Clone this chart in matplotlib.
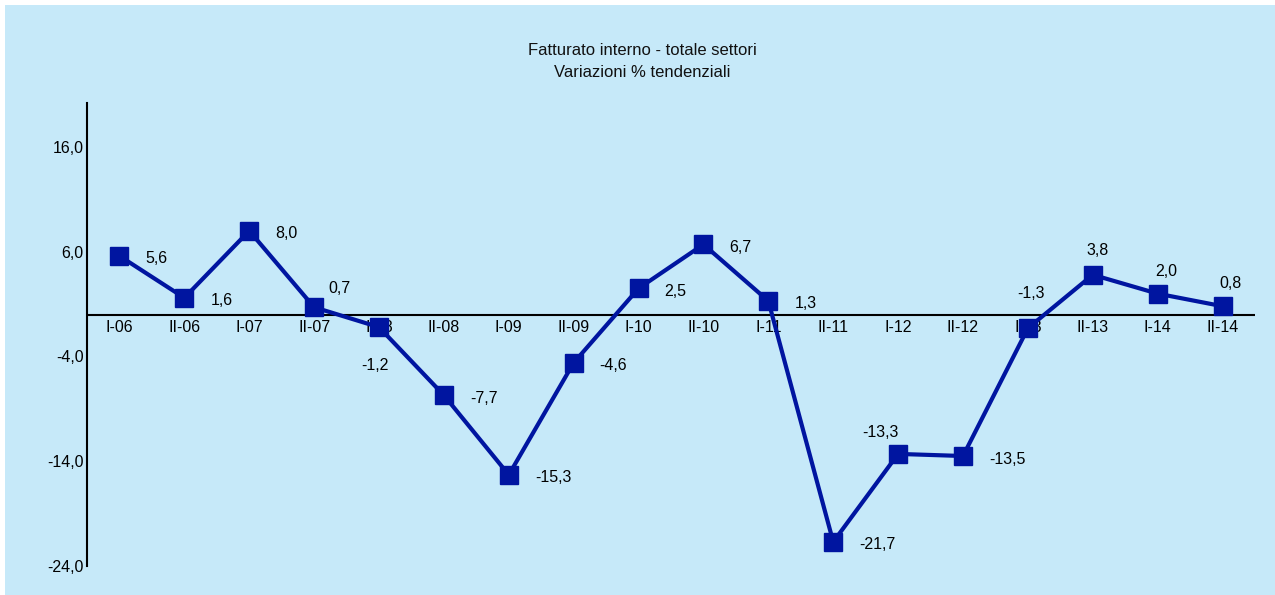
import matplotlib.pyplot as plt
from matplotlib.patches import Rectangle

periods = ['I-06', 'II-06', 'I-07', 'II-07', 'I-08', 'II-08', 'I-09', 'II-09',
           'I-10', 'II-10', 'I-11', 'II-11', 'I-12', 'II-12', 'I-13', 'II-13',
           'I-14', 'II-14']
values = [5.6, 1.6, 8.0, 0.7, -1.2, -7.7, -15.3, -4.6,
          2.5, 6.7, 1.3, -21.7, -13.3, -13.5, -1.3, 3.8,
          2.0, 0.8]
y_ticks = [16.0, 6.0, -4.0, -14.0, -24.0]

# label offsets in pixels (dx, dy); those not listed sit to the right of the marker
offsets = {3: (25, 19), 4: (-4, -38), 12: (-18, 21), 14: (3, 35),
           15: (5, 24), 16: (9, 22), 17: (8, 23)}

bg = '#C6E9F9'
line_col = '#0015A0'

plt.rcParams['font.family'] = ['Liberation Sans', 'DejaVu Sans']

fig = plt.figure(figsize=(12.75, 5.95), dpi=100)
fig.patch.set_facecolor('white')
fig.patches.append(Rectangle((5 / 1275, 0), 1, 1 - 5 / 595, transform=fig.transFigure,
                             facecolor=bg, edgecolor='none', zorder=-10))

ax = fig.add_axes([87 / 1275, 1 - 566 / 595, (1255 - 87) / 1275, (566 - 103) / 595])
ax.set_facecolor('none')

x = list(range(len(periods)))
ax.plot(x, values, color=line_col, lw=3, marker='s', markersize=13,
        markerfacecolor=line_col, markeredgecolor=line_col, zorder=3)

for i, v in enumerate(values):
    txt = f'{v:.1f}'.replace('.', ',')
    if i in offsets:
        dx, dy = offsets[i]
        ha = 'center'
    else:
        dx, dy = 26, -3
        ha = 'left'
    ax.annotate(txt, (i, v), xytext=(dx * 0.72, dy * 0.72),
                textcoords='offset points', ha=ha, va='center', fontsize=11.5)

ax.set_xlim(-0.5, 17.5)
ax.set_ylim(-24, 20.2)

for s in ['top', 'right', 'bottom']:
    ax.spines[s].set_visible(False)
ax.spines['left'].set_linewidth(1.5)
ax.axhline(0, color='black', lw=1.5, zorder=2)

ax.set_yticks(y_ticks)
ax.set_yticklabels([f'{t:.1f}'.replace('.', ',') for t in y_ticks], fontsize=11.5)
ax.tick_params(axis='y', length=0, pad=2.5)

ax.set_xticks(x)
ax.set_xticklabels([])
ax.tick_params(axis='x', length=0)
for i, p in enumerate(periods):
    ax.annotate(p, (i, 0), xytext=(0, -9), textcoords='offset points',
                ha='center', va='center', fontsize=11.5, zorder=1)

fig.text(642 / 1275, 1 - 61.5 / 595, 'Fatturato interno - totale settori\nVariazioni % tendenziali',
         ha='center', va='center', fontsize=12, linespacing=1.6, color='#111111')

fig.savefig('out.png', dpi=100, facecolor='white')
